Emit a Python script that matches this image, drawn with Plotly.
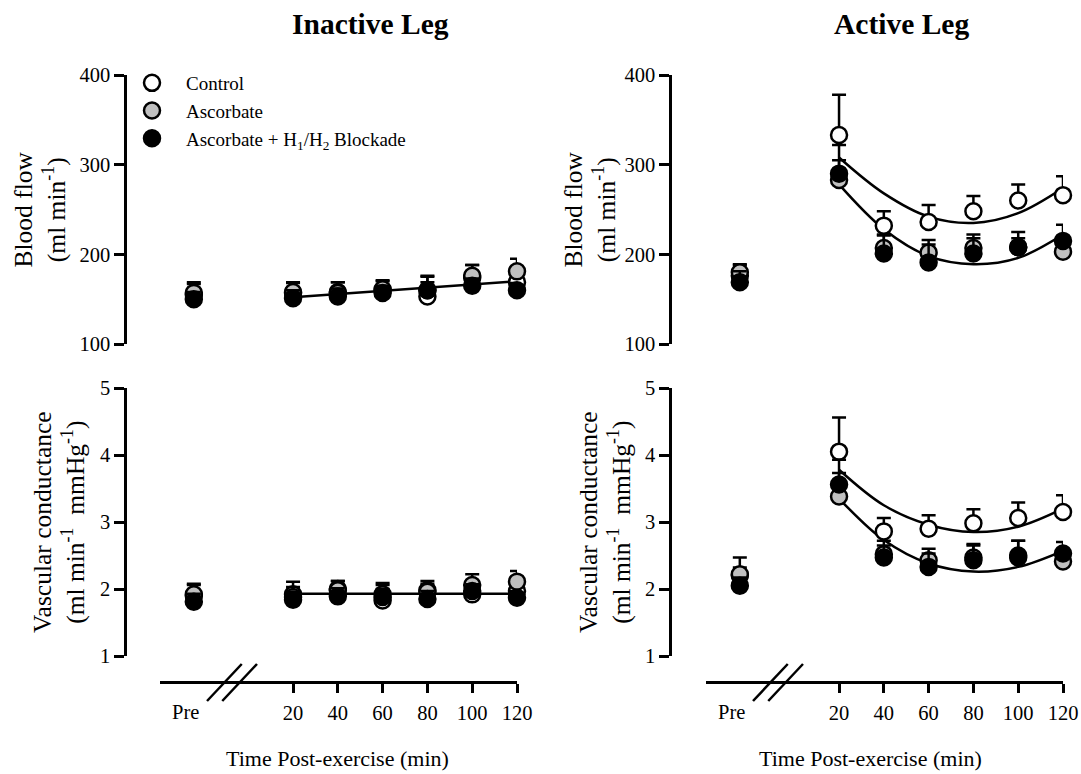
import plotly.graph_objects as go

# ---------------- data ----------------
categories = ["Pre", 20, 40, 60, 80, 100, 120]
series_names = ["Control", "Ascorbate", "Ascorbate + H<sub>1</sub>/H<sub>2</sub> Blockade"]

# Inactive leg - blood flow (ml/min)
inactive_bf_control = [155, 157, 158, 160, 153, 174, 169]
inactive_bf_ascorbate = [157, 158, 157, 161, 160, 176, 181]
inactive_bf_blockade = [150, 151, 153, 157, 160, 165, 160]
inactive_bf_control_se = [14, 12, 11, 10, 22, 14, 12]
inactive_bf_ascorbate_se = [10, 10, 12, 10, 16, 12, 14]
inactive_bf_blockade_se = [8, 9, 9, 8, 9, 8, 8]
inactive_bf_fit_x = [20, 120]
inactive_bf_fit = [152, 170]

# Active leg - blood flow (ml/min)
active_bf_control = [176, 333, 232, 236, 248, 260, 266]
active_bf_ascorbate = [180, 283, 207, 202, 207, 208, 203]
active_bf_blockade = [169, 290, 201, 191, 201, 208, 215]
active_bf_control_se = [13, 45, 16, 19, 17, 18, 21]
active_bf_ascorbate_se = [8, 39, 15, 14, 15, 10, 10]
active_bf_blockade_se = [12, 15, 20, 20, 17, 17, 18]
active_fit_x = [20, 40, 60, 80, 100, 120]
active_bf_fit_upper = [308, 268, 242, 235, 246, 274]
active_bf_fit_lower = [278, 228, 198, 189, 196, 222]

# Inactive leg - vascular conductance
inactive_vc_control = [1.90, 1.92, 2.00, 1.83, 1.98, 1.92, 1.97]
inactive_vc_ascorbate = [1.92, 1.88, 1.98, 1.92, 1.96, 2.06, 2.11]
inactive_vc_blockade = [1.81, 1.84, 1.89, 1.88, 1.85, 1.97, 1.87]
inactive_vc_control_se = [0.18, 0.19, 0.12, 0.26, 0.14, 0.12, 0.12]
inactive_vc_ascorbate_se = [0.14, 0.15, 0.14, 0.14, 0.12, 0.16, 0.16]
inactive_vc_blockade_se = [0.12, 0.12, 0.12, 0.12, 0.12, 0.10, 0.10]
inactive_vc_fit_x = [20, 120]
inactive_vc_fit = [1.93, 1.93]

# Active leg - vascular conductance
active_vc_control = [2.20, 4.05, 2.86, 2.90, 2.98, 3.06, 3.15]
active_vc_ascorbate = [2.22, 3.38, 2.52, 2.43, 2.47, 2.50, 2.41]
active_vc_blockade = [2.05, 3.56, 2.47, 2.33, 2.43, 2.47, 2.53]
active_vc_control_se = [0.27, 0.51, 0.20, 0.20, 0.21, 0.23, 0.25]
active_vc_ascorbate_se = [0.10, 0.35, 0.20, 0.17, 0.20, 0.22, 0.15]
active_vc_blockade_se = [0.12, 0.37, 0.18, 0.20, 0.22, 0.25, 0.17]
active_vc_fit_upper = [3.78, 3.25, 2.96, 2.85, 2.93, 3.20]
active_vc_fit_lower = [3.35, 2.73, 2.38, 2.26, 2.33, 2.57]

bf_ticks = [100, 200, 300, 400]
vc_ticks = [1, 2, 3, 4, 5]
time_ticks = [20, 40, 60, 80, 100, 120]

# ---------------- layout helpers ----------------
W, H = 1081, 774
PRE_POS = -24.3                   # axis position used for the "Pre" category
X_RANGE = [-39.4, 120]
FONT = "Liberation Serif"
FILLS = ["white", "#c0c0c0", "black"]


def px(x):
    return x / W


def py(y):
    return 1 - y / H


def xpos(cats):
    return [PRE_POS if c == "Pre" else c for c in cats]


fig = go.Figure()

panels = [
    dict(xa="x", ya="y",
         means=[inactive_bf_control, inactive_bf_ascorbate, inactive_bf_blockade],
         ses=[inactive_bf_control_se, inactive_bf_ascorbate_se, inactive_bf_blockade_se],
         fits=[(inactive_bf_fit_x, inactive_bf_fit, "linear")]),
    dict(xa="x2", ya="y2",
         means=[active_bf_control, active_bf_ascorbate, active_bf_blockade],
         ses=[active_bf_control_se, active_bf_ascorbate_se, active_bf_blockade_se],
         fits=[(active_fit_x, active_bf_fit_upper, "spline"),
               (active_fit_x, active_bf_fit_lower, "spline")]),
    dict(xa="x3", ya="y3",
         means=[inactive_vc_control, inactive_vc_ascorbate, inactive_vc_blockade],
         ses=[inactive_vc_control_se, inactive_vc_ascorbate_se, inactive_vc_blockade_se],
         fits=[(inactive_vc_fit_x, inactive_vc_fit, "linear")]),
    dict(xa="x4", ya="y4",
         means=[active_vc_control, active_vc_ascorbate, active_vc_blockade],
         ses=[active_vc_control_se, active_vc_ascorbate_se, active_vc_blockade_se],
         fits=[(active_fit_x, active_vc_fit_upper, "spline"),
               (active_fit_x, active_vc_fit_lower, "spline")]),
]

xs = xpos(categories)
for pi, p in enumerate(panels):
    for fx, fy, shape in p["fits"]:
        fig.add_trace(go.Scatter(
            x=fx, y=fy, mode="lines", line=dict(color="black", width=2.5, shape=shape, smoothing=1.0),
            showlegend=False, hoverinfo="skip", cliponaxis=False,
            xaxis=p["xa"], yaxis=p["ya"]))
    for si in range(3):
        fig.add_trace(go.Scatter(
            x=xs, y=p["means"][si], mode="markers", name=series_names[si],
            legendgroup=series_names[si], showlegend=(pi == 0),
            marker=dict(size=16, color=FILLS[si], line=dict(color="black", width=2.5)),
            error_y=dict(type="data", array=p["ses"][si], arrayminus=[0] * len(xs),
                         symmetric=False, color="black", thickness=2.5, width=7),
            cliponaxis=False, xaxis=p["xa"], yaxis=p["ya"]))

tickfont = dict(family=FONT, size=20.5, color="black")
left_dom = [px(160), px(517)]
right_dom = [px(706), px(1063)]
top_dom = [py(344), py(75)]
bot_dom = [py(656), py(388)]


def x_axis(dom, bottom, anchor):
    d = dict(domain=dom, range=X_RANGE, showgrid=False, zeroline=False, fixedrange=True,
             automargin=False)
    if bottom:
        d.update(anchor="free", position=py(682), showline=True, linecolor="black", linewidth=2.5,
                 ticks="outside", ticklen=9, tickwidth=2.5, tickcolor="black",
                 tickvals=time_ticks, ticktext=[str(t) for t in time_ticks], tickfont=tickfont,
                 ticklabelstandoff=3)
    else:
        d.update(anchor=anchor, visible=False)
    return d


def y_axis(dom, rng, ticks, xposition):
    return dict(domain=dom, range=rng, anchor="free", position=xposition, showgrid=False,
                zeroline=False, showline=True, linecolor="black", linewidth=2.5,
                ticks="outside", ticklen=10, tickwidth=2.5, tickcolor="black", automargin=False,
                tickvals=ticks, ticktext=[str(t) for t in ticks], tickfont=tickfont, fixedrange=True)


annotations = []
# panel titles
for txt, cx in [("<b>Inactive Leg</b>", 370), ("<b>Active Leg</b>", 901)]:
    annotations.append(dict(text=txt, x=px(cx), y=py(24), xref="paper", yref="paper",
                            xanchor="center", yanchor="middle",
                            showarrow=False, font=dict(family=FONT, size=29.5, color="black")))
# y titles
ytitle_font = dict(family=FONT, size=25.5, color="black")
for txt, cx, cy in [("Blood flow<br>(ml min<sup>-1</sup>)", 40, 209.5),
                    ("Vascular conductance<br>(ml min<sup>-1</sup>  mmHg<sup>-1</sup>)", 59, 522),
                    ("Blood flow<br>(ml min<sup>-1</sup>)", 590, 209.5),
                    ("Vascular conductance<br>(ml min<sup>-1</sup>  mmHg<sup>-1</sup>)", 605, 522)]:
    annotations.append(dict(text=txt, x=px(cx), y=py(cy), xref="paper", yref="paper", textangle=-90,
                            xanchor="center", yanchor="middle", showarrow=False, font=ytitle_font))
# x titles
for cx in [337, 870]:
    annotations.append(dict(text="Time Post-exercise (min)", x=px(cx), y=py(758), xref="paper", yref="paper",
                            xanchor="center", yanchor="middle",
                            showarrow=False, font=dict(family=FONT, size=22, color="black")))
# Pre labels
for xr in ["x3", "x4"]:
    annotations.append(dict(text=categories[0], x=PRE_POS - 3.5, y=py(712), xref=xr, yref="paper",
                            xanchor="center", yanchor="middle",
                            showarrow=False, font=tickfont))

# axis break marks
shapes = []
for xr in ["x3", "x4"]:
    for x0 in [-18.4, -11.6]:
        shapes.append(dict(type="line", xref=xr, yref="paper", x0=x0, x1=x0 + 15.5,
                           y0=py(701), y1=py(664), line=dict(color="black", width=2.5)))

fig.update_layout(
    template="none",
    width=W, height=H, autosize=False,
    margin=dict(l=0, r=0, t=0, b=0, pad=0, autoexpand=False),
    paper_bgcolor="white", plot_bgcolor="white",
    font=dict(family=FONT, color="black"),
    xaxis=x_axis(left_dom, False, "y"),
    xaxis2=x_axis(right_dom, False, "y2"),
    xaxis3=x_axis(left_dom, True, "y3"),
    xaxis4=x_axis(right_dom, True, "y4"),
    yaxis=y_axis(top_dom, [100, 400], bf_ticks, px(125)),
    yaxis2=y_axis(top_dom, [100, 400], bf_ticks, px(670)),
    yaxis3=y_axis(bot_dom, [1, 5], vc_ticks, px(125)),
    yaxis4=y_axis(bot_dom, [1, 5], vc_ticks, px(670)),
    legend=dict(x=px(118), y=py(64), xanchor="left", yanchor="top", bgcolor="rgba(0,0,0,0)",
                font=dict(family=FONT, size=19, color="black"), itemwidth=58,
                tracegroupgap=0, borderwidth=0),
    annotations=annotations,
    shapes=shapes,
    showlegend=True,
)

# place the figure at the page origin (no default body margin / scrollbars)
page_css = ("document.documentElement.style.overflow='hidden';"
            "document.body.style.margin='0';document.body.style.overflow='hidden';")
fig.write_html("out.html", post_script=page_css, config={"displayModeBar": False})
